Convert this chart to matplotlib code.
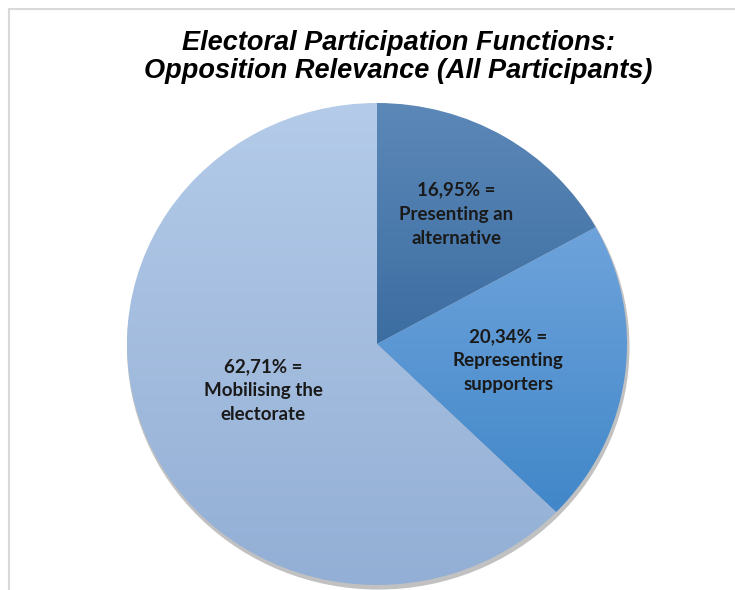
import numpy as np
import matplotlib
matplotlib.use("Agg")
import matplotlib.pyplot as plt
from matplotlib.colors import LinearSegmentedColormap
from matplotlib.patches import Rectangle, Ellipse

# Datos
values = [16.95, 20.34, 62.71]
pct_labels = ["16,95%", "20,34%", "62,71%"]
categories = ["Presenting an\nalternative", "Representing\nsupporters", "Mobilising the\nelectorate"]
title = "Electoral Participation Functions:\nOpposition Relevance (All Participants)"

# Colores del degradado (arriba, abajo) de cada sector
grad_colors = [("#5c88b8", "#3c6da1"), ("#6ea3db", "#4187c9"), ("#b4cbe9", "#93afd5")]
label_dist = [0.625, 0.53, 0.495]

W, H = 735, 590
fig = plt.figure(figsize=(W / 100, H / 100), dpi=100)

# Ejes de la tarta en píxeles: x 127-627, y 103-585
ax = fig.add_axes([127 / W, (H - 585) / H, 500 / W, 482 / H])

# Sombra
ax.add_patch(Ellipse((0.005, -0.014), 2.01, 2.01, color="#8f8f8f", alpha=0.55, lw=0,
                     clip_on=False, zorder=0))

wedges, _ = ax.pie(values, startangle=90, counterclock=False, radius=1,
                   wedgeprops=dict(linewidth=0))
ax.set_aspect("auto")
ax.set_xlim(-1, 1)
ax.set_ylim(-1, 1)
ax.axis("off")

for w, (c_top, c_bot) in zip(wedges, grad_colors):
    w.set_facecolor("none")
    ext = w.get_path().get_extents()
    cmap = LinearSegmentedColormap.from_list("g", [c_top, c_bot])
    grad = np.linspace(0, 1, 256).reshape(-1, 1)
    im = ax.imshow(grad, cmap=cmap, aspect="auto", origin="upper",
                   extent=[ext.x0, ext.x1, ext.y0, ext.y1], zorder=2)
    im.set_clip_path(w)
    im.set_clip_on(True)

ax.set_aspect("auto")
ax.set_xlim(-1, 1)
ax.set_ylim(-1, 1)

for w, p, c, d in zip(wedges, pct_labels, categories, label_dist):
    ang = np.deg2rad((w.theta1 + w.theta2) / 2)
    ax.text(d * np.cos(ang), d * np.sin(ang), p + " =\n" + c, ha="center", va="center",
            fontsize=13.5, fontweight="bold", family="Lato", color="#1a1a1a",
            linespacing=1.5, zorder=5)

fig.text(398 / W, 1 - 57 / H, title, ha="center", va="center", fontsize=19.5,
         fontweight="bold", fontstyle="italic", family="Liberation Sans", color="black",
         linespacing=1.12)

# Marco del gráfico
fig.add_artist(Rectangle((9 / W, -0.1), 1.2, 1.1 - 9 / H, transform=fig.transFigure,
                         fill=False, edgecolor="#d9d9d9", lw=1.5))

fig.savefig("out.png", dpi=100)
